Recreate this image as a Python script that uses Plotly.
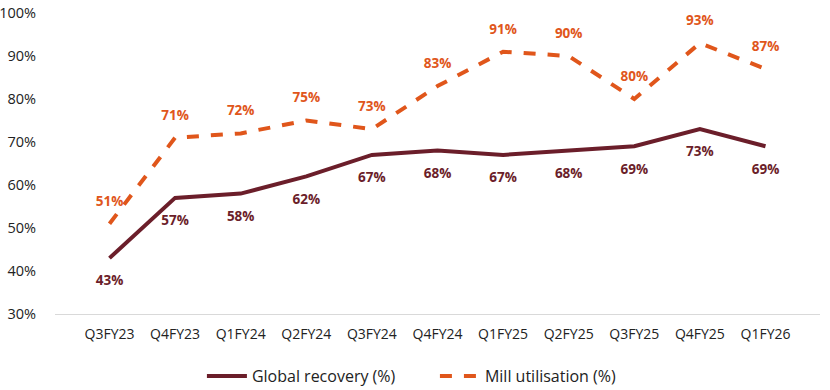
import plotly.graph_objects as go

quarters = ["Q3FY23", "Q4FY23", "Q1FY24", "Q2FY24", "Q3FY24", "Q4FY24",
            "Q1FY25", "Q2FY25", "Q3FY25", "Q4FY25", "Q1FY26"]
global_recovery = [43, 57, 58, 62, 67, 68, 67, 68, 69, 73, 69]
mill_utilisation = [51, 71, 72, 75, 73, 83, 91, 90, 80, 93, 87]

maroon = "#6B1E2A"
orange = "#E0561B"
font_family = "Open Sans, Noto Sans, DejaVu Sans, sans-serif"

fig = go.Figure()
fig.add_trace(go.Scatter(
    x=quarters, y=global_recovery, name="Global recovery (%)",
    mode="lines+markers+text", line=dict(color=maroon, width=4),
    marker=dict(size=26, color="rgba(0,0,0,0)"),
    text=[f"{v}%" for v in global_recovery], textposition="bottom center",
    textfont=dict(color=maroon, size=13.5, family=font_family, weight="bold"),
    cliponaxis=False,
))
fig.add_trace(go.Scatter(
    x=quarters, y=mill_utilisation, name="Mill utilisation (%)",
    mode="lines+markers+text", line=dict(color=orange, width=4, dash="dash"),
    marker=dict(size=22, color="rgba(0,0,0,0)"),
    text=[f"{v}%" for v in mill_utilisation], textposition="top center",
    textfont=dict(color=orange, size=13.5, family=font_family, weight="bold"),
    cliponaxis=False,
))

fig.update_layout(
    width=830, height=390,
    margin=dict(l=55, r=10, t=13, b=76, autoexpand=False),
    paper_bgcolor="white", plot_bgcolor="white",
    font=dict(family=font_family, size=14, color="#222222"),
    showlegend=True,
    legend=dict(orientation="h", xref="container", x=0.524, xanchor="center",
                y=-0.15, yanchor="top",
                font=dict(size=16, color="#222222"), itemwidth=40,
                entrywidth=178, entrywidthmode="pixels"),
    xaxis=dict(showgrid=False, showline=True, linecolor="#D9D9D9", linewidth=1,
               ticks="", tickfont=dict(size=14), ticklabelstandoff=7, automargin=False),
    yaxis=dict(range=[30, 100], dtick=10, ticksuffix="%", showgrid=False,
               zeroline=False, showline=False, tickfont=dict(size=14.5),
               ticklabelstandoff=18, automargin=False),
)

fig.write_html(
    "out.html",
    config={"displayModeBar": False},
    post_script="document.body.style.margin='0';document.body.style.padding='0';"
                "document.body.style.overflow='hidden';",
)
